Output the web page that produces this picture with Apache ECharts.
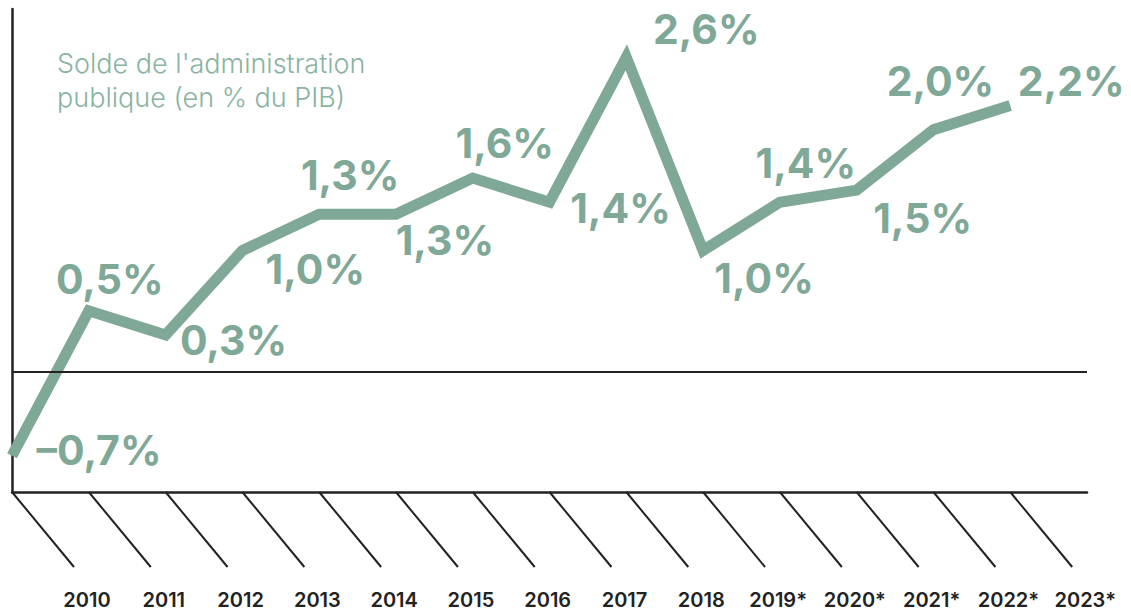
<!DOCTYPE html>
<html>
<head>
<meta charset="utf-8">
<script src="https://cdn.jsdelivr.net/npm/echarts@6/dist/echarts.min.js"></script>
<style>
  html, body { margin: 0; padding: 0; background: #fff; }
  #main { width: 1131px; height: 615px; }
</style>
</head>
<body>
<div id="main"></div>
<script>
(function () {
    // données
    var years = [2010, 2011, 2012, 2013, 2014, 2015, 2016, 2017, 2018, 2019, 2020, 2021, 2022, 2023];
    var yearLabels = ['2010', '2011', '2012', '2013', '2014', '2015', '2016', '2017', '2018',
        '2019*', '2020*', '2021*', '2022*', '2023*'];
    var solde = [-0.7, 0.5, 0.3, 1.0, 1.3, 1.3, 1.6, 1.4, 2.6, 1.0, 1.4, 1.5, 2.0, 2.2];

    // décalage des étiquettes (px) par rapport au point
    var labelDx = [87, 21, 68, 73, 31, 49, 32, 71, 80, 61, 26, 66, 7, 61];
    var labelDy = [-6, -32, 5, 18, -39, 26, -35, 6, -28, 27, -39, 28, -49, -25];

    var green = '#80a897';
    var dark = '#222222';

    var myChart = echarts.init(document.getElementById('main'), null, { renderer: 'svg' });

    var lineData = years.map(function (y, i) {
        return {
            value: [y, solde[i]],
            label: { offset: [labelDx[i], labelDy[i]] }
        };
    });

    var option = {
        animation: false,
        title: {
            text: "Solde de l'administration\npublique (en % du PIB)",
            left: 52,
            top: 41,
            textStyle: {
                fontFamily: 'Inter',
                fontWeight: 300,
                fontSize: 27,
                lineHeight: 34,
                color: '#8ab3a2'
            }
        },
        grid: { left: 12, right: 44, top: 9, bottom: 123 },
        xAxis: {
            type: 'value',
            min: 2010,
            max: 2024,
            axisLine: { onZero: false, lineStyle: { color: dark, width: 2.5 } },
            axisTick: { show: false },
            axisLabel: { show: false },
            splitLine: { show: false }
        },
        yAxis: {
            type: 'value',
            min: -1,
            max: 3,
            axisLine: { show: true, onZero: false, lineStyle: { color: dark, width: 2.5 } },
            axisTick: { show: false },
            axisLabel: { show: false },
            splitLine: { show: false }
        },
        series: [
            {
                type: 'line',
                data: lineData,
                clip: false,
                symbol: 'circle',
                symbolSize: 1,
                itemStyle: { color: 'rgba(0,0,0,0)' },
                lineStyle: { color: green, width: 11, join: 'miter', miterLimit: 10, cap: 'butt' },
                label: {
                    show: true,
                    position: 'inside',
                    align: 'center',
                    verticalAlign: 'middle',
                    formatter: function (p) {
                        return String(p.value[1].toFixed(1)).replace('.', ',').replace('-', '–') + '%';
                    },
                    color: green,
                    fontFamily: 'Inter',
                    fontWeight: 700,
                    fontSize: 41
                },
                markLine: {
                    silent: true,
                    symbol: 'none',
                    label: { show: false },
                    lineStyle: { color: dark, width: 2, type: 'solid' },
                    data: [{ yAxis: 0 }]
                },
                z: 3
            },
            {
                // traits obliques et années sous l'axe
                type: 'custom',
                data: years.map(function (y, i) { return [y, -1, i]; }),
                clip: false,
                renderItem: function (params, api) {
                    var p = api.coord([api.value(0), -1]);
                    var i = api.value(2);
                    return {
                        type: 'group',
                        children: [
                            {
                                type: 'line',
                                shape: { x1: p[0], y1: p[1], x2: p[0] + 62, y2: p[1] + 75 },
                                style: { stroke: dark, lineWidth: 2 }
                            },
                            {
                                type: 'text',
                                x: p[0] + 75,
                                y: p[1] + 108,
                                style: {
                                    text: yearLabels[i],
                                    fill: dark,
                                    font: '600 20px Inter',
                                    align: 'center',
                                    verticalAlign: 'middle'
                                }
                            }
                        ]
                    };
                },
                z: 1
            }
        ]
    };
    myChart.setOption(option);
})();
</script>
</body>
</html>
